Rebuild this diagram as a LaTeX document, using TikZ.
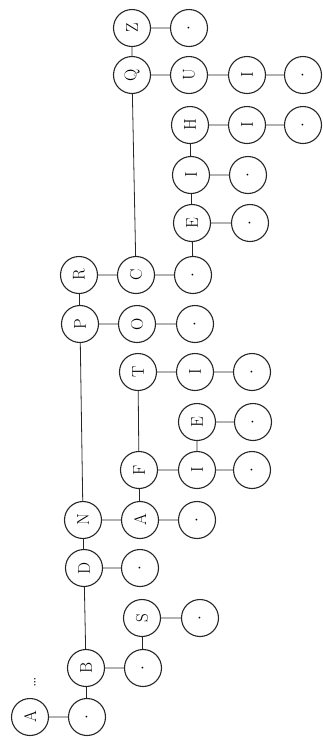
\documentclass[tikz,border=0pt]{standalone}
\begin{document}
\begin{tikzpicture}[x=1pt,y=-1pt,
  tn/.style={circle,draw=black!85,line width=1.1pt,minimum size=37pt,inner sep=0pt,
    font=\fontsize{17}{20}\selectfont,rotate=90},
  ln/.style={draw=black!85,line width=0.8pt}]
\useasboundingbox (0,0) rectangle (322,740);
\node[tn] (a) at (30,717) {A};
\node[rotate=90,inner sep=0pt,font=\fontsize{18}{20}\selectfont] (ell) at (35,682) {\dots};
\node[tn] (d1) at (87,717) {$\cdot$};
\node[tn] (b) at (86,668) {B};
\node[tn] (d2) at (143,668) {$\cdot$};
\node[tn] (s) at (142,618) {S};
\node[tn] (d3) at (200,618) {$\cdot$};
\node[tn] (dd) at (84,568) {D};
\node[tn] (d4) at (140,568) {$\cdot$};
\node[tn] (n) at (83,520) {N};
\node[tn] (aa) at (140,520) {A};
\node[tn] (d5) at (197,520) {$\cdot$};
\node[tn] (f) at (139,470) {F};
\node[tn] (i1) at (197,470) {I};
\node[tn] (d6) at (252,470) {$\cdot$};
\node[tn] (e1) at (197,422) {E};
\node[tn] (d7) at (253,422) {$\cdot$};
\node[tn] (t) at (138,372) {T};
\node[tn] (i2) at (195,372) {I};
\node[tn] (d8) at (252,372) {$\cdot$};
\node[tn] (p) at (80,324) {P};
\node[tn] (o) at (137,324) {O};
\node[tn] (d9) at (195,324) {$\cdot$};
\node[tn] (r) at (79,275) {R};
\node[tn] (c) at (136,275) {C};
\node[tn] (d10) at (193,275) {$\cdot$};
\node[tn] (e2) at (192,223) {E};
\node[tn] (d11) at (250,223) {$\cdot$};
\node[tn] (i3) at (191,175) {I};
\node[tn] (d12) at (248,175) {$\cdot$};
\node[tn] (h) at (190,125) {H};
\node[tn] (i4) at (247,125) {I};
\node[tn] (d13) at (303,125) {$\cdot$};
\node[tn] (q) at (132,75) {Q};
\node[tn] (u) at (189,75) {U};
\node[tn] (i5) at (247,75) {I};
\node[tn] (d14) at (303,75) {$\cdot$};
\node[tn] (z) at (132,28) {Z};
\node[tn] (d15) at (189,28) {$\cdot$};
\path[ln] (a)--(d1) (d1)--(b) (b)--(d2) (d2)--(s) (s)--(d3)
  (b)--(dd) (dd)--(d4) (dd)--(n) (n)--(aa) (aa)--(d5) (aa)--(f)
  (f)--(i1) (i1)--(d6) (i1)--(e1) (e1)--(d7) (f)--(t) (t)--(i2) (i2)--(d8)
  (n)--(p) (p)--(o) (o)--(d9) (p)--(r) (r)--(c) (c)--(d10) (d10)--(e2)
  (e2)--(d11) (e2)--(i3) (i3)--(d12) (i3)--(h) (h)--(i4) (i4)--(d13)
  (c)--(q) (q)--(u) (u)--(i5) (i5)--(d14) (q)--(z) (z)--(d15);
\end{tikzpicture}
\end{document}
